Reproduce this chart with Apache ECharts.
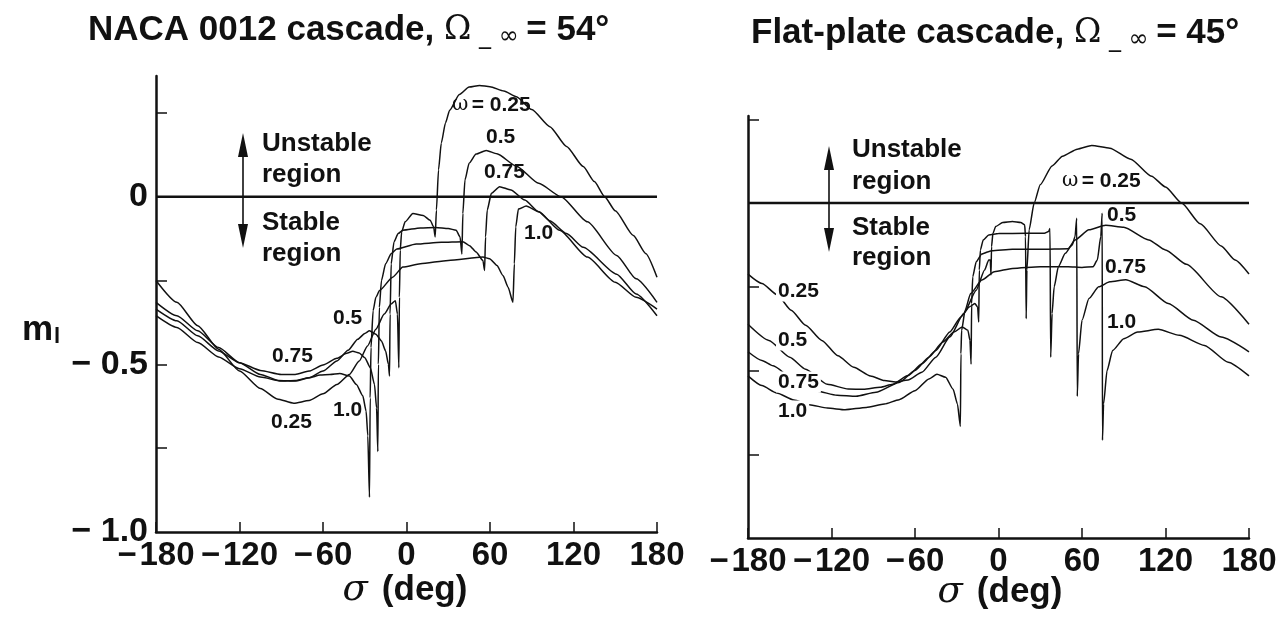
<!DOCTYPE html>
<html>
<head>
<meta charset="utf-8">
<script src="https://cdn.jsdelivr.net/npm/echarts@6/dist/echarts.min.js"></script>
<style>
  html, body { margin: 0; padding: 0; background: #fff; }
  #chart { width: 1284px; height: 623px; }
</style>
</head>
<body>
<div id="chart"></div>
<script>
// Interblade phase angle ticks (deg) and damping-axis labels
const sigmaTicks = [-180, -120, -60, 0, 60, 120, 180];
const mLabelValues = [0, -0.5, -1];
const mTickValues = [0.25, -0.25, -0.5, -0.75];
const omegaValues = ['0.25', '0.5', '0.75', '1.0'];
const zeroLine = [[-180, 0], [180, 0]];

// NACA 0012 cascade, stagger 54 deg: [sigma (deg), m_l]
const naca025 = [[-180,-0.25],[-165,-0.315],[-150,-0.385],[-135,-0.455],[-120,-0.52],[-105,-0.572],[-93,-0.603],[-81,-0.616],[-70,-0.608],[-60,-0.588],[-50,-0.56],[-41,-0.53],[-34,-0.49],[-28,-0.445],[-22,-0.395],[-16,-0.35],[-11,-0.32],[-8,-0.31],[-6.5,-0.35],[-5.5,-0.51],[-5.1,-0.3],[-4.5,-0.16],[-3.5,-0.105],[-1,-0.075],[4.6,-0.05],[12,-0.056],[17,-0.07],[19.5,-0.09],[20.6,-0.12],[21.5,-0.04],[23,0.08],[25,0.16],[28,0.22],[31,0.258],[38,0.305],[45,0.327],[52.5,0.332],[60,0.328],[70,0.315],[79,0.298],[90,0.26],[103,0.209],[115,0.15],[127,0.09],[135,0.045],[142.4,0],[150,-0.042],[163,-0.116],[172,-0.17],[180,-0.24]];
const naca050 = [[-180,-0.315],[-165,-0.355],[-150,-0.40],[-135,-0.45],[-120,-0.495],[-105,-0.53],[-92,-0.548],[-80,-0.55],[-70,-0.54],[-60,-0.52],[-50,-0.49],[-42,-0.458],[-35,-0.425],[-30,-0.408],[-26.6,-0.4],[-22,-0.41],[-18,-0.43],[-15,-0.46],[-13,-0.5],[-12.2,-0.535],[-11.8,-0.35],[-11,-0.2],[-9,-0.135],[-6,-0.11],[-2.6,-0.1],[10,-0.093],[21,-0.092],[30,-0.095],[35.7,-0.1],[38.5,-0.12],[39.8,-0.171],[40.5,-0.05],[42,0.05],[45,0.1],[50,0.127],[57.3,0.138],[65,0.128],[79,0.091],[95,0.04],[111,0],[130,-0.075],[151,-0.175],[165,-0.245],[180,-0.315]];
const naca075 = [[-180,-0.335],[-165,-0.37],[-150,-0.415],[-135,-0.46],[-120,-0.495],[-105,-0.518],[-90,-0.53],[-80,-0.53],[-70,-0.52],[-60,-0.502],[-50,-0.482],[-43,-0.467],[-38.6,-0.461],[-34,-0.466],[-30,-0.48],[-26,-0.51],[-23,-0.56],[-21.5,-0.63],[-20.6,-0.76],[-20.2,-0.5],[-19.5,-0.33],[-18,-0.25],[-15,-0.2],[-11,-0.17],[-7,-0.156],[7,-0.141],[25,-0.136],[40.5,-0.134],[45.3,-0.146],[50,-0.165],[54.9,-0.19],[56.1,-0.22],[56.8,-0.12],[58,-0.04],[61,0.01],[66.9,0.03],[75,0.02],[85,-0.01],[95,-0.045],[110,-0.1],[130,-0.18],[150,-0.255],[165,-0.3],[180,-0.335]];
const naca100 = [[-180,-0.355],[-165,-0.39],[-150,-0.435],[-135,-0.478],[-120,-0.513],[-105,-0.538],[-90,-0.55],[-80,-0.548],[-70,-0.54],[-62,-0.532],[-55,-0.53],[-48,-0.527],[-41,-0.535],[-36,-0.56],[-31.4,-0.594],[-29,-0.64],[-27.8,-0.713],[-26.6,-0.896],[-26.1,-0.6],[-25.5,-0.45],[-24,-0.34],[-22,-0.3],[-19.4,-0.28],[-10,-0.24],[-2.6,-0.21],[10,-0.2],[30,-0.19],[54.9,-0.18],[59.7,-0.185],[65,-0.205],[69.3,-0.235],[73,-0.27],[76.5,-0.315],[77.5,-0.2],[78.5,-0.09],[80.4,-0.037],[86,-0.028],[95,-0.045],[103,-0.072],[115,-0.11],[127,-0.151],[151,-0.231],[165,-0.29],[180,-0.355]];

// Flat-plate cascade, stagger 45 deg: [sigma (deg), m_l]
const flat025 = [[-180,-0.212],[-170,-0.24],[-159,-0.274],[-149,-0.32],[-138.6,-0.365],[-127,-0.41],[-115.4,-0.456],[-104,-0.49],[-92,-0.516],[-82,-0.53],[-74,-0.534],[-65,-0.528],[-55,-0.505],[-45,-0.46],[-35,-0.4],[-25,-0.33],[-16,-0.26],[-10,-0.2],[-7,-0.17],[-5.9,-0.17],[-5.4,-0.215],[-5.0,-0.13],[-4,-0.09],[-2,-0.07],[3,-0.058],[10,-0.055],[16,-0.058],[18.8,-0.065],[19.4,-0.1],[19.9,-0.345],[20.4,-0.2],[22,-0.08],[25.6,0],[30,0.055],[38.5,0.111],[46,0.14],[56.6,0.161],[67,0.172],[80,0.164],[95,0.131],[110,0.08],[120,0.048],[131.6,0],[145,-0.062],[160,-0.128],[170,-0.17],[180,-0.212]];
const flat050 = [[-180,-0.362],[-165,-0.41],[-150,-0.46],[-138.6,-0.496],[-123,-0.541],[-108,-0.555],[-97,-0.556],[-85,-0.55],[-76,-0.541],[-65,-0.515],[-55,-0.48],[-45,-0.44],[-35,-0.385],[-27,-0.34],[-21,-0.31],[-17,-0.3],[-15,-0.31],[-14.2,-0.355],[-13.8,-0.2],[-13,-0.14],[-11,-0.11],[-7,-0.095],[0,-0.091],[20,-0.09],[33,-0.09],[36,-0.085],[37,-0.076],[37.5,-0.46],[38.5,-0.33],[40,-0.25],[43,-0.19],[48,-0.15],[55,-0.11],[65,-0.08],[77,-0.066],[90,-0.072],[108,-0.11],[120,-0.14],[135,-0.183],[160,-0.28],[180,-0.362]];
const flat075 = [[-180,-0.444],[-170,-0.47],[-162,-0.486],[-146,-0.53],[-130.9,-0.561],[-116,-0.574],[-102.4,-0.577],[-88,-0.565],[-71.4,-0.536],[-60,-0.5],[-50,-0.46],[-40,-0.415],[-32,-0.385],[-26,-0.37],[-22,-0.38],[-20.5,-0.41],[-19.7,-0.481],[-19.3,-0.3],[-18.5,-0.22],[-16,-0.175],[-12,-0.152],[-5,-0.142],[10,-0.138],[30,-0.138],[50,-0.136],[53,-0.125],[55,-0.1],[56.2,-0.045],[56.6,-0.577],[57.5,-0.45],[60,-0.35],[65,-0.285],[72,-0.25],[80,-0.235],[91.5,-0.229],[105,-0.25],[122,-0.3],[140,-0.35],[160,-0.4],[180,-0.444]];
const flat100 = [[-180,-0.516],[-170,-0.545],[-159.3,-0.567],[-147,-0.588],[-136,-0.602],[-123,-0.612],[-110.2,-0.617],[-95,-0.61],[-82,-0.6],[-71.4,-0.587],[-60,-0.56],[-50,-0.525],[-44.2,-0.511],[-38,-0.52],[-32.6,-0.556],[-29.5,-0.6],[-27.4,-0.667],[-27,-0.45],[-26.5,-0.38],[-24,-0.32],[-20,-0.27],[-12,-0.23],[-3,-0.205],[10,-0.195],[30,-0.19],[50,-0.19],[60,-0.192],[68,-0.19],[71,-0.17],[73.5,-0.1],[74.5,-0.03],[74.7,-0.708],[75.5,-0.6],[78,-0.5],[82,-0.44],[90,-0.405],[100,-0.385],[114.8,-0.377],[130,-0.395],[148,-0.425],[165,-0.475],[180,-0.516]];

const nacaCurves = [naca025, naca050, naca075, naca100];
const flatCurves = [flat025, flat050, flat075, flat100];

const FONT = '"Liberation Sans", Arial, Helvetica, sans-serif';
const INK = '#111';

// minus sign followed by a hair space, as in the printed axis
const minus = v => (v < 0 ? '\u2212\u200A' + Math.abs(v) : String(v));
const fmtM = v => (v === 0 ? '0' : '\u2212 ' + Math.abs(v).toFixed(1));

function makeXAxis(gridIndex) {
  return {
    type: 'value', gridIndex, min: sigmaTicks[0], max: sigmaTicks[sigmaTicks.length - 1], interval: 60,
    axisLine: { show: true, onZero: false, lineStyle: { color: INK, width: 2.5 } },
    axisTick: { show: true, inside: true, length: 10, customValues: sigmaTicks, lineStyle: { color: INK, width: 1.5 } },
    axisLabel: {
      customValues: sigmaTicks, showMinLabel: true, showMaxLabel: true, hideOverlap: false,
      formatter: minus, color: INK, fontSize: 33, fontWeight: 'bold', fontFamily: FONT, margin: 7
    },
    splitLine: { show: false }
  };
}
function makeYAxis(gridIndex, max, showLabels) {
  return {
    type: 'value', gridIndex, min: -1, max,
    axisLine: { show: true, onZero: false, lineStyle: { color: INK, width: 2.5 } },
    axisTick: { show: true, inside: true, length: 11, customValues: mTickValues, lineStyle: { color: INK, width: 1.5 } },
    axisLabel: {
      show: showLabels, customValues: mLabelValues, showMinLabel: true, showMaxLabel: true,
      formatter: fmtM, color: INK, fontSize: 34, fontWeight: 'bold', fontFamily: FONT, margin: 8
    },
    splitLine: { show: false }
  };
}

function curveSeries(data, idx) {
  return {
    type: 'line', xAxisIndex: idx, yAxisIndex: idx, data,
    showSymbol: false, smooth: 0.2, smoothMonotone: 'x', silent: true,
    lineStyle: { color: INK, width: 1.5 }, z: 3
  };
}
function zeroSeries(idx) {
  return {
    type: 'line', xAxisIndex: idx, yAxisIndex: idx, data: zeroLine,
    showSymbol: false, silent: true, lineStyle: { color: INK, width: 2.5 }, z: 2
  };
}

const series = [zeroSeries(0), zeroSeries(1)]
  .concat(nacaCurves.map(d => curveSeries(d, 0)))
  .concat(flatCurves.map(d => curveSeries(d, 1)));

// ---- annotation helpers (text and double arrows) ----
function txt(x, y, text, size, opts) {
  return Object.assign({
    type: 'text', x, y, z: 10,
    style: Object.assign({ text, fill: INK, fontSize: size, fontWeight: 'bold', fontFamily: FONT, align: 'left', verticalAlign: 'middle' }, (opts && opts.style) || {})
  }, (opts && opts.el) || {});
}
function curveLabel(x, y, text, bg) {
  return txt(x, y, text, 21, { style: bg ? { backgroundColor: '#fff', padding: [0, 2] } : {} });
}
function doubleArrow(x, yTop, yBot) {
  const hl = 24, hw = 5;
  return {
    type: 'group', z: 10, children: [
      { type: 'line', shape: { x1: x, y1: yTop + 10, x2: x, y2: yBot - 10 }, style: { stroke: INK, lineWidth: 1.6 } },
      { type: 'polygon', shape: { points: [[x, yTop], [x - hw, yTop + hl], [x + hw, yTop + hl]] }, style: { fill: INK } },
      { type: 'polygon', shape: { points: [[x, yBot], [x - hw, yBot - hl], [x + hw, yBot - hl]] }, style: { fill: INK } }
    ]
  };
}
function titleText(x, y, lead, angle) {
  return {
    type: 'text', x, y, z: 10,
    style: {
      text: '{b|' + lead + '}{o|\u03A9}{s| _ \u221E }{b|= ' + angle + '\u00B0}',
      fill: INK, fontFamily: FONT, verticalAlign: 'middle', align: 'left',
      rich: {
        b: { fontSize: 35, fontWeight: 'bold', fontFamily: FONT, fill: INK },
        o: { fontSize: 33, fontWeight: 'normal', fontFamily: '"DejaVu Serif", serif', fill: INK },
        s: { fontSize: 24, fontWeight: 'normal', fontFamily: '"DejaVu Sans", sans-serif', fill: INK, padding: [14, 0, 0, 0] }
      }
    }
  };
}
function axisName(cx, y) {
  return {
    type: 'text', x: cx, y, z: 10,
    style: {
      text: '{s|\u03C3}{g| }{b|(deg)}', align: 'center', verticalAlign: 'middle', fill: INK,
      rich: {
        s: { fontSize: 37, fontStyle: 'italic', fontWeight: 'normal', fontFamily: '"DejaVu Serif", serif', fill: INK },
        g: { fontSize: 35, width: 14 },
        b: { fontSize: 35, fontWeight: 'bold', fontFamily: FONT, fill: INK }
      }
    }
  };
}
function omegaLabel(x, y) {
  return {
    type: 'text', x, y, z: 10,
    style: {
      text: '{w|\u03C9} {b|= ' + omegaValues[0] + '}', verticalAlign: 'middle', fill: INK,
      rich: {
        w: { fontSize: 20, fontFamily: '"DejaVu Serif", serif', fill: INK },
        b: { fontSize: 21, fontWeight: 'bold', fontFamily: FONT, fill: INK }
      }
    }
  };
}

const graphic = [
  titleText(88, 30, 'NACA 0012 cascade, ', 54),
  titleText(751, 33, 'Flat-plate cascade, ', 45),
  axisName(405, 590),
  axisName(1000, 592),
  {
    type: 'text', x: 22, y: 330, z: 10,
    style: {
      text: '{m|m}{l|l}', verticalAlign: 'middle', fill: INK,
      rich: {
        m: { fontSize: 35, fontWeight: 'bold', fontFamily: FONT, fill: INK },
        l: { fontSize: 22, fontWeight: 'bold', fontFamily: FONT, fill: INK, padding: [14, 0, 0, 1] }
      }
    }
  },
  // left panel: stability regions
  doubleArrow(243, 133, 248),
  txt(262, 144, 'Unstable', 26), txt(262, 175, 'region', 26),
  txt(262, 223, 'Stable', 26), txt(262, 254, 'region', 26),
  // right panel: stability regions
  doubleArrow(829, 146, 252),
  txt(852, 150, 'Unstable', 26), txt(852, 182, 'region', 26),
  txt(852, 228, 'Stable', 26), txt(852, 258, 'region', 26),
  // left panel: reduced-frequency labels
  omegaLabel(452, 105),
  curveLabel(486, 137, omegaValues[1]),
  curveLabel(484, 172, omegaValues[2]),
  curveLabel(524, 233, omegaValues[3]),
  curveLabel(333, 318, omegaValues[1]),
  curveLabel(272, 356, omegaValues[2]),
  curveLabel(333, 410, omegaValues[3]),
  curveLabel(271, 422, omegaValues[0]),
  // right panel: reduced-frequency labels
  omegaLabel(1062, 181),
  curveLabel(1107, 215, omegaValues[1]),
  curveLabel(1105, 267, omegaValues[2]),
  curveLabel(1107, 322, omegaValues[3]),
  curveLabel(776, 291, omegaValues[0], true),
  curveLabel(776, 340, omegaValues[1], true),
  curveLabel(776, 382, omegaValues[2], true),
  curveLabel(776, 411, omegaValues[3], true)
];

const chart = echarts.init(document.getElementById('chart'), null, { renderer: 'canvas' });
chart.setOption({
  animation: false,
  backgroundColor: '#fff',
  grid: [
    { left: 156, top: 76, width: 501, height: 456, containLabel: false, outerBoundsMode: 'none' },
    { left: 748, top: 116, width: 501, height: 422, containLabel: false, outerBoundsMode: 'none' }
  ],
  xAxis: [makeXAxis(0), makeXAxis(1)],
  yAxis: [makeYAxis(0, 0.36, true), makeYAxis(1, 0.26, false)],
  series,
  graphic
});
</script>
</body>
</html>
